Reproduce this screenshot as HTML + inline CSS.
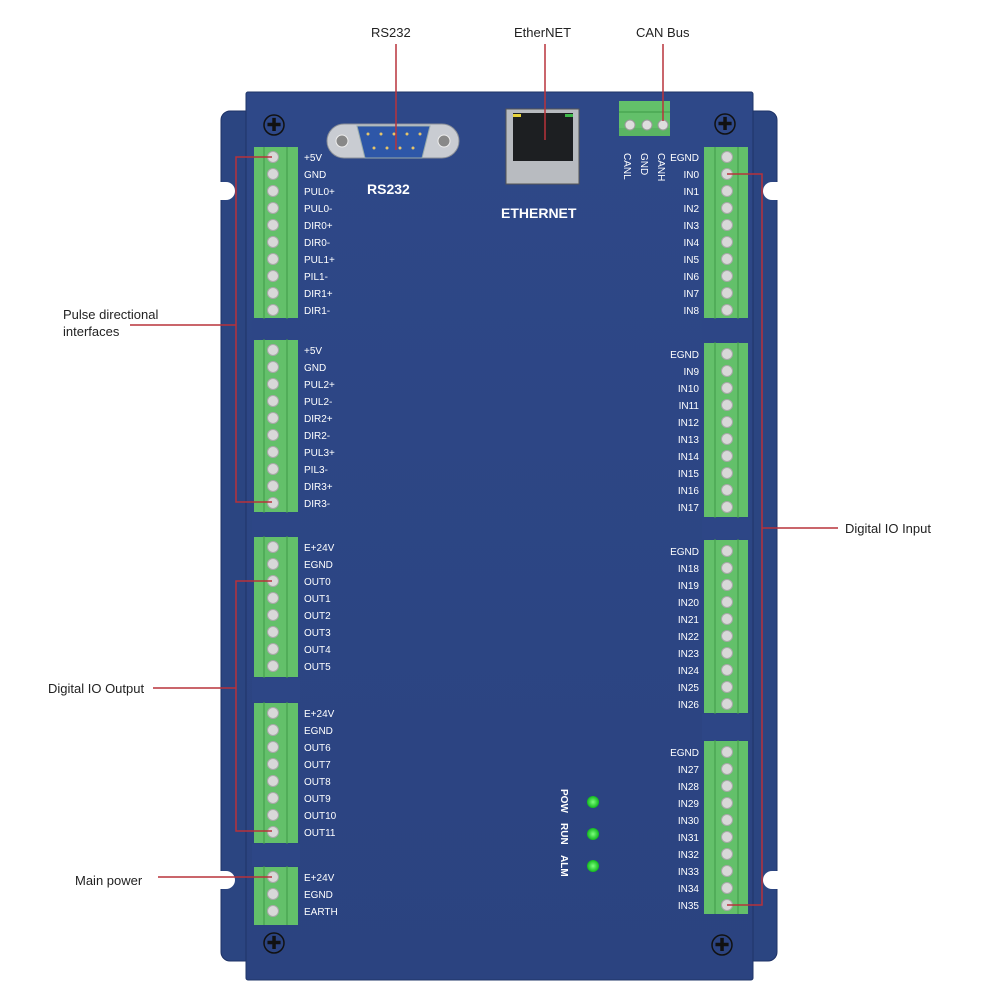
<!DOCTYPE html>
<html><head><meta charset="utf-8"><style>
html,body{margin:0;padding:0;background:#fff}
svg{display:block}
text{font-family:"Liberation Sans",sans-serif}
.l{fill:#fff;font-size:10px}
.c{fill:#222;font-size:13px}
</style></head><body>
<svg width="1000" height="1000" viewBox="0 0 1000 1000">
<defs>
<linearGradient id="g" x1="0" x2="0" y1="0" y2="1"><stop offset="0" stop-color="#2e4888"/><stop offset="1" stop-color="#2b4380"/></linearGradient>
<radialGradient id="led"><stop offset="0" stop-color="#7dff7d"/><stop offset="1" stop-color="#11b81d"/></radialGradient>
</defs>
<rect x="221" y="111" width="40" height="850" rx="9" fill="#2b4581" stroke="#1e3266"/>
<rect x="737" y="111" width="40" height="850" rx="9" fill="#2b4581" stroke="#1e3266"/>
<circle cx="226" cy="191" r="9" fill="#fff"/><circle cx="226" cy="880" r="9" fill="#fff"/>
<circle cx="772" cy="191" r="9" fill="#fff"/><circle cx="772" cy="880" r="9" fill="#fff"/>
<rect x="220" y="182" width="6" height="18" fill="#fff"/><rect x="220" y="871" width="6" height="18" fill="#fff"/>
<rect x="772" y="182" width="7" height="18" fill="#fff"/><rect x="772" y="871" width="7" height="18" fill="#fff"/>
<rect x="246" y="92" width="507" height="888" rx="2" fill="url(#g)" stroke="#1f3467"/>
<g fill="none" stroke="#111" stroke-width="1.5">
<circle cx="274" cy="125" r="10"/><circle cx="725" cy="124" r="10"/><circle cx="274" cy="943" r="10"/><circle cx="722" cy="945" r="10"/></g>
<g fill="#111" font-size="18" text-anchor="middle">
<text x="274" y="131">✚</text><text x="725" y="130">✚</text><text x="274" y="949">✚</text><text x="722" y="951">✚</text></g>
<rect x="327" y="124" width="132" height="34" rx="17" fill="#c9ccd2" stroke="#8a8f98"/>
<circle cx="342" cy="141" r="6" fill="#888" stroke="#eee"/><circle cx="444" cy="141" r="6" fill="#888" stroke="#eee"/>
<path d="M357 126 H430 L422 158 H365 Z" fill="#2e57a8" stroke="#9aa"/>
<g fill="#e5c46a"><circle cx="368" cy="134" r="1.5"/><circle cx="381" cy="134" r="1.5"/><circle cx="394" cy="134" r="1.5"/><circle cx="407" cy="134" r="1.5"/><circle cx="420" cy="134" r="1.5"/><circle cx="374" cy="148" r="1.5"/><circle cx="387" cy="148" r="1.5"/><circle cx="400" cy="148" r="1.5"/><circle cx="413" cy="148" r="1.5"/></g>
<text x="367" y="194" fill="#fff" font-size="14" font-weight="bold">RS232</text>
<rect x="506" y="109" width="73" height="75" fill="#b8bbc0" stroke="#555"/>
<rect x="513" y="113" width="60" height="48" fill="#1d1f22"/>
<rect x="513" y="114" width="8" height="3" fill="#e6d23a"/><rect x="565" y="114" width="8" height="3" fill="#3fb84a"/>
<text x="501" y="218" fill="#fff" font-size="14" font-weight="bold">ETHERNET</text>
<rect x="619" y="101" width="51" height="35" fill="#63c06a"/>
<line x1="619" y1="112" x2="670" y2="112" stroke="#3e9a47"/>
<rect x="619" y="128" width="51" height="8" fill="#5ab463"/>
<g fill="#ddd" stroke="#999"><circle cx="630" cy="125" r="5"/><circle cx="647" cy="125" r="5"/><circle cx="663" cy="125" r="5"/></g>
<g class="l" font-size="9"><text transform="translate(624,153) rotate(90)">CANL</text><text transform="translate(641,153) rotate(90)">GND</text><text transform="translate(658,153) rotate(90)">CANH</text></g>
<circle cx="593" cy="802" r="6" fill="url(#led)"/><circle cx="593" cy="834" r="6" fill="url(#led)"/><circle cx="593" cy="866" r="6" fill="url(#led)"/>
<g class="l" font-size="11" font-weight="bold"><text transform="translate(561,789) rotate(90)">POW</text><text transform="translate(561,823) rotate(90)">RUN</text><text transform="translate(561,855) rotate(90)">ALM</text></g>
<g fill="#63c06a"><rect x="254" y="147" width="44" height="171"/><rect x="254" y="340" width="44" height="172"/><rect x="254" y="537" width="44" height="140"/><rect x="254" y="703" width="44" height="140"/><rect x="254" y="867" width="44" height="58"/>
<rect x="704" y="147" width="44" height="171"/><rect x="704" y="343" width="44" height="174"/><rect x="704" y="540" width="44" height="173"/><rect x="704" y="741" width="44" height="173"/></g>
<g stroke="#3f9a48"><line x1="264" y1="147" x2="264" y2="925"/><line x1="287" y1="147" x2="287" y2="925"/><line x1="715" y1="147" x2="715" y2="914"/><line x1="738" y1="147" x2="738" y2="914"/></g>
<g fill="#2d4686"><rect x="252" y="319" width="48" height="20"/><rect x="252" y="513" width="48" height="23"/><rect x="252" y="678" width="48" height="24"/><rect x="252" y="844" width="48" height="22"/>
<rect x="702" y="319" width="48" height="23"/><rect x="702" y="518" width="48" height="21"/><rect x="702" y="714" width="48" height="26"/></g>
<g fill="#d8d8d8" stroke="#a8a8a8">
<circle cx="273" cy="157" r="5.5"/><circle cx="273" cy="174" r="5.5"/><circle cx="273" cy="191" r="5.5"/><circle cx="273" cy="208" r="5.5"/><circle cx="273" cy="225" r="5.5"/><circle cx="273" cy="242" r="5.5"/><circle cx="273" cy="259" r="5.5"/><circle cx="273" cy="276" r="5.5"/><circle cx="273" cy="293" r="5.5"/><circle cx="273" cy="310" r="5.5"/>
<circle cx="273" cy="350" r="5.5"/><circle cx="273" cy="367" r="5.5"/><circle cx="273" cy="384" r="5.5"/><circle cx="273" cy="401" r="5.5"/><circle cx="273" cy="418" r="5.5"/><circle cx="273" cy="435" r="5.5"/><circle cx="273" cy="452" r="5.5"/><circle cx="273" cy="469" r="5.5"/><circle cx="273" cy="486" r="5.5"/><circle cx="273" cy="503" r="5.5"/>
<circle cx="273" cy="547" r="5.5"/><circle cx="273" cy="564" r="5.5"/><circle cx="273" cy="581" r="5.5"/><circle cx="273" cy="598" r="5.5"/><circle cx="273" cy="615" r="5.5"/><circle cx="273" cy="632" r="5.5"/><circle cx="273" cy="649" r="5.5"/><circle cx="273" cy="666" r="5.5"/>
<circle cx="273" cy="713" r="5.5"/><circle cx="273" cy="730" r="5.5"/><circle cx="273" cy="747" r="5.5"/><circle cx="273" cy="764" r="5.5"/><circle cx="273" cy="781" r="5.5"/><circle cx="273" cy="798" r="5.5"/><circle cx="273" cy="815" r="5.5"/><circle cx="273" cy="832" r="5.5"/>
<circle cx="273" cy="877" r="5.5"/><circle cx="273" cy="894" r="5.5"/><circle cx="273" cy="911" r="5.5"/>
<circle cx="727" cy="157" r="5.5"/><circle cx="727" cy="174" r="5.5"/><circle cx="727" cy="191" r="5.5"/><circle cx="727" cy="208" r="5.5"/><circle cx="727" cy="225" r="5.5"/><circle cx="727" cy="242" r="5.5"/><circle cx="727" cy="259" r="5.5"/><circle cx="727" cy="276" r="5.5"/><circle cx="727" cy="293" r="5.5"/><circle cx="727" cy="310" r="5.5"/>
<circle cx="727" cy="354" r="5.5"/><circle cx="727" cy="371" r="5.5"/><circle cx="727" cy="388" r="5.5"/><circle cx="727" cy="405" r="5.5"/><circle cx="727" cy="422" r="5.5"/><circle cx="727" cy="439" r="5.5"/><circle cx="727" cy="456" r="5.5"/><circle cx="727" cy="473" r="5.5"/><circle cx="727" cy="490" r="5.5"/><circle cx="727" cy="507" r="5.5"/>
<circle cx="727" cy="551" r="5.5"/><circle cx="727" cy="568" r="5.5"/><circle cx="727" cy="585" r="5.5"/><circle cx="727" cy="602" r="5.5"/><circle cx="727" cy="619" r="5.5"/><circle cx="727" cy="636" r="5.5"/><circle cx="727" cy="653" r="5.5"/><circle cx="727" cy="670" r="5.5"/><circle cx="727" cy="687" r="5.5"/><circle cx="727" cy="704" r="5.5"/>
<circle cx="727" cy="752" r="5.5"/><circle cx="727" cy="769" r="5.5"/><circle cx="727" cy="786" r="5.5"/><circle cx="727" cy="803" r="5.5"/><circle cx="727" cy="820" r="5.5"/><circle cx="727" cy="837" r="5.5"/><circle cx="727" cy="854" r="5.5"/><circle cx="727" cy="871" r="5.5"/><circle cx="727" cy="888" r="5.5"/><circle cx="727" cy="905" r="5.5"/>
</g>
<g class="l">
<text x="304" y="161">+5V</text><text x="304" y="178">GND</text><text x="304" y="195">PUL0+</text><text x="304" y="212">PUL0-</text><text x="304" y="229">DIR0+</text><text x="304" y="246">DIR0-</text><text x="304" y="263">PUL1+</text><text x="304" y="280">PIL1-</text><text x="304" y="297">DIR1+</text><text x="304" y="314">DIR1-</text>
<text x="304" y="354">+5V</text><text x="304" y="371">GND</text><text x="304" y="388">PUL2+</text><text x="304" y="405">PUL2-</text><text x="304" y="422">DIR2+</text><text x="304" y="439">DIR2-</text><text x="304" y="456">PUL3+</text><text x="304" y="473">PIL3-</text><text x="304" y="490">DIR3+</text><text x="304" y="507">DIR3-</text>
<text x="304" y="551">E+24V</text><text x="304" y="568">EGND</text><text x="304" y="585">OUT0</text><text x="304" y="602">OUT1</text><text x="304" y="619">OUT2</text><text x="304" y="636">OUT3</text><text x="304" y="653">OUT4</text><text x="304" y="670">OUT5</text>
<text x="304" y="717">E+24V</text><text x="304" y="734">EGND</text><text x="304" y="751">OUT6</text><text x="304" y="768">OUT7</text><text x="304" y="785">OUT8</text><text x="304" y="802">OUT9</text><text x="304" y="819">OUT10</text><text x="304" y="836">OUT11</text>
<text x="304" y="881">E+24V</text><text x="304" y="898">EGND</text><text x="304" y="915">EARTH</text>
</g>
<g class="l" text-anchor="end">
<text x="699" y="161">EGND</text><text x="699" y="178">IN0</text><text x="699" y="195">IN1</text><text x="699" y="212">IN2</text><text x="699" y="229">IN3</text><text x="699" y="246">IN4</text><text x="699" y="263">IN5</text><text x="699" y="280">IN6</text><text x="699" y="297">IN7</text><text x="699" y="314">IN8</text>
<text x="699" y="358">EGND</text><text x="699" y="375">IN9</text><text x="699" y="392">IN10</text><text x="699" y="409">IN11</text><text x="699" y="426">IN12</text><text x="699" y="443">IN13</text><text x="699" y="460">IN14</text><text x="699" y="477">IN15</text><text x="699" y="494">IN16</text><text x="699" y="511">IN17</text>
<text x="699" y="555">EGND</text><text x="699" y="572">IN18</text><text x="699" y="589">IN19</text><text x="699" y="606">IN20</text><text x="699" y="623">IN21</text><text x="699" y="640">IN22</text><text x="699" y="657">IN23</text><text x="699" y="674">IN24</text><text x="699" y="691">IN25</text><text x="699" y="708">IN26</text>
<text x="699" y="756">EGND</text><text x="699" y="773">IN27</text><text x="699" y="790">IN28</text><text x="699" y="807">IN29</text><text x="699" y="824">IN30</text><text x="699" y="841">IN31</text><text x="699" y="858">IN32</text><text x="699" y="875">IN33</text><text x="699" y="892">IN34</text><text x="699" y="909">IN35</text>
</g>
<g stroke="#b8323a" stroke-width="1.5" fill="none">
<path d="M396 44 V150"/><path d="M545 44 V140"/><path d="M663 44 V121"/>
<path d="M272 157 H236 V502 H272"/><path d="M130 325 H236"/>
<path d="M272 581 H236 V831 H272"/><path d="M153 688 H236"/>
<path d="M158 877 H272"/>
<path d="M727 174 H762 V905 H727"/><path d="M762 528 H838"/>
</g>
<g class="c">
<text x="371" y="37">RS232</text><text x="514" y="37">EtherNET</text><text x="636" y="37">CAN Bus</text>
<text x="63" y="319">Pulse directional</text><text x="63" y="336">interfaces</text>
<text x="48" y="693">Digital IO Output</text><text x="75" y="885">Main power</text>
<text x="845" y="533">Digital IO Input</text>
</g>
</svg>
</body></html>
